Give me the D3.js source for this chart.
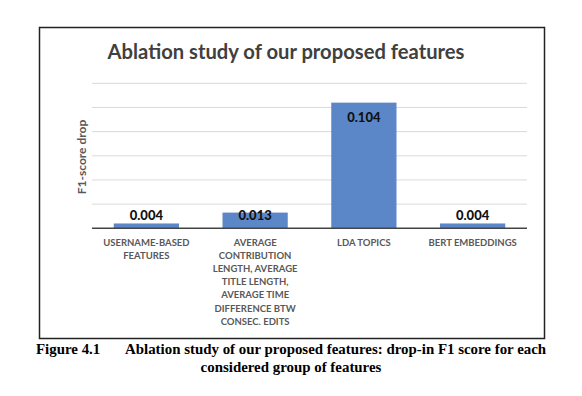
<!DOCTYPE html>
<html>
<head>
<meta charset="utf-8">
<script src="https://cdn.jsdelivr.net/npm/d3@7"></script>
<style>
  body { margin: 0; background: #fff; }
  svg { display: block; }
</style>
</head>
<body>
<svg width="582" height="396"></svg>
<script>
// data
const categories = ["USERNAME-BASED FEATURES", "AVERAGE CONTRIBUTION", "LDA TOPICS", "BERT EMBEDDINGS"];
const categoryLines = [
    ["USERNAME-BASED", "FEATURES"],
    ["AVERAGE", "CONTRIBUTION", "LENGTH, AVERAGE", "TITLE LENGTH,", "AVERAGE TIME", "DIFFERENCE BTW", "CONSEC. EDITS"],
    ["LDA TOPICS"],
    ["BERT EMBEDDINGS"]
];
const drops = [0.004, 0.013, 0.104, 0.004];
const yTicks = [0, 0.02, 0.04, 0.06, 0.08, 0.10, 0.12];

const svg = d3.select("svg"),
    width = +svg.attr("width"),
    height = +svg.attr("height");

const chartFont = "Lato, 'Open Sans', sans-serif";

// outer frame of the figure
svg.append("rect")
    .attr("x", 39.5)
    .attr("y", 27.5)
    .attr("width", 505)
    .attr("height", 311)
    .style("fill", "none")
    .style("stroke", "#222")
    .style("stroke-width", "1.5px");

const x = d3.scaleBand()
    .domain(categories)
    .range([92, 527])
    .paddingInner(0.4)
    .paddingOuter(0.2);

const y = d3.scaleLinear()
    .domain([0, 0.12])
    .range([228.3, 83.3]);

// gridlines
svg.append("g")
    .selectAll("line")
    .data(yTicks.slice(1))
    .join("line")
    .attr("x1", 92)
    .attr("x2", 527)
    .attr("y1", d => y(d))
    .attr("y2", d => y(d))
    .style("stroke", "#d9d9d9")
    .style("stroke-width", "1px");

// bars
svg.append("g")
    .selectAll("rect")
    .data(drops)
    .join("rect")
    .attr("x", (d, i) => x(categories[i]))
    .attr("width", x.bandwidth())
    .attr("y", d => y(d))
    .attr("height", d => y(0) - y(d))
    .attr("fill", "#5b87c8");

// x axis line
svg.append("line")
    .attr("x1", 92)
    .attr("x2", 527)
    .attr("y1", y(0))
    .attr("y2", y(0))
    .style("stroke", "#444")
    .style("stroke-width", "1.5px");

// value labels (inside end, pushed up when the bar is short)
svg.append("g")
    .selectAll("text")
    .data(drops)
    .join("text")
    .attr("x", (d, i) => x(categories[i]) + x.bandwidth() / 2)
    .attr("y", d => Math.min(y(d) + 15, y(0) - 13))
    .attr("dy", "0.35em")
    .attr("text-anchor", "middle")
    .style("font-family", chartFont)
    .style("font-weight", "900")
    .style("font-size", "13px")
    .style("fill", "#111")
    .text(d => d.toFixed(3));

// category labels
const cat = svg.append("g")
    .selectAll("text")
    .data(categoryLines)
    .join("text")
    .attr("text-anchor", "middle")
    .style("font-family", chartFont)
    .style("font-weight", "bold")
    .style("font-size", "9.5px")
    .style("fill", "#595959");

cat.selectAll("tspan")
    .data((d, i) => d.map(t => ({ t, i })))
    .join("tspan")
    .attr("x", d => x(categories[d.i]) + x.bandwidth() / 2)
    .attr("y", (d, j) => 246 + j * 13.1)
    .text(d => d.t);

// chart title
svg.append("text")
    .attr("x", 286)
    .attr("y", 59)
    .attr("text-anchor", "middle")
    .style("font-family", chartFont)
    .style("font-weight", "bold")
    .style("font-size", "20.2px")
    .style("fill", "#404040")
    .text("Ablation study of our proposed features");

// y axis title
svg.append("text")
    .attr("transform", "translate(86,157) rotate(-90)")
    .attr("text-anchor", "middle")
    .style("font-family", chartFont)
    .style("font-weight", "bold")
    .style("font-size", "12px")
    .style("fill", "#595959")
    .text("F1-score drop");

// figure caption
const capFont = "'Liberation Serif', 'Times New Roman', serif";
svg.append("text")
    .attr("x", 36)
    .attr("y", 354)
    .style("font-family", capFont)
    .style("font-weight", "bold")
    .style("font-size", "14.9px")
    .style("fill", "#000")
    .text("Figure 4.1");

svg.append("text")
    .attr("x", 125)
    .attr("y", 354)
    .style("font-family", capFont)
    .style("font-weight", "bold")
    .style("font-size", "14.9px")
    .style("fill", "#000")
    .text("Ablation study of our proposed features: drop-in F1 score for each");

svg.append("text")
    .attr("x", 291)
    .attr("y", 371.5)
    .attr("text-anchor", "middle")
    .style("font-family", capFont)
    .style("font-weight", "bold")
    .style("font-size", "14.9px")
    .style("fill", "#000")
    .text("considered group of features");
</script>
</body>
</html>
